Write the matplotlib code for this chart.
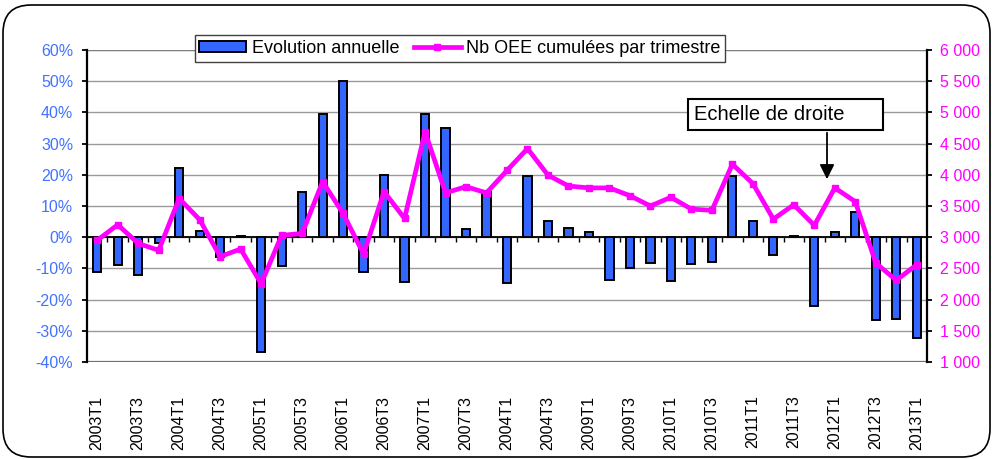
import matplotlib
matplotlib.use('Agg')
import matplotlib.pyplot as plt
from matplotlib.patches import FancyBboxPatch, Rectangle
from matplotlib.transforms import IdentityTransform
from matplotlib.ticker import FuncFormatter, MultipleLocator

plt.rcParams['font.family'] = ['Liberation Sans', 'DejaVu Sans']

# quarters 2003T1 .. 2013T1, labels every second quarter (as written on the chart)
tick_labels = ['2003T1', '2003T3', '2004T1', '2004T3', '2005T1', '2005T3',
               '2006T1', '2006T3', '2007T1', '2007T3', '2004T1', '2004T3',
               '2009T1', '2009T3', '2010T1', '2010T3', '2011T1', '2011T3',
               '2012T1', '2012T3', '2013T1']

# evolution annuelle (%)
evol = [-11, -9, -12, -2, 22.2, 2, -6.5, 0.5, -36.7, -9.2,
        14.6, 39.6, 50.2, -11, 20, -14.4, 39.4, 35, 2.7, 14.5,
        -14.6, 19.6, 5.2, 3.1, 1.8, -13.6, -9.8, -8.3, -14.1, -8.5,
        -8.1, 19.6, 5.2, -5.6, 0.3, -22, 1.6, 8, -26.6, -26.1,
        -32.4]

# Nb OEE cumulees par trimestre
nb_oee = [2950, 3200, 2900, 2790, 3620, 3280, 2690, 2810, 2255, 3030,
          3060, 3890, 3380, 2730, 3730, 3300, 4690, 3710, 3810, 3710,
          4070, 4420, 3995, 3820, 3790, 3790, 3665, 3500, 3640, 3450,
          3430, 4170, 3860, 3290, 3520, 3190, 3790, 3570, 2585, 2310,
          2560]

xs = list(range(len(evol)))
blue = '#3366FF'
pink = '#FF00FF'

fig = plt.figure(figsize=(9.92, 4.59), dpi=100)
ax = fig.add_axes([87/992, 1-362/459, 840/992, 312/459])
ax2 = ax.twinx()

# bars
bars = ax.bar(xs, evol, width=0.4, color=blue, edgecolor='black', linewidth=1.4,
              zorder=3, label='Evolution annuelle')
ax.set_xlim(-0.5, len(evol) - 0.5)
ax.set_ylim(-40, 60)
ax.yaxis.set_major_locator(MultipleLocator(10))
ax.yaxis.set_major_formatter(FuncFormatter(lambda v, p: f'{v:.0f}%'))
ax.grid(axis='y', color='#9a9a9a', linewidth=1, zorder=0)
ax.set_axisbelow(True)
# plot area border top / bottom
ax.axhline(-40, color='#707070', linewidth=1.6, zorder=2)
ax.axhline(60, color='#808080', linewidth=1.6, zorder=2)

# category axis sits on 0 %
ax.spines['bottom'].set_position(('data', 0))
ax.spines['bottom'].set_linewidth(1.3)
ax.spines['top'].set_visible(False)
ax.spines['left'].set_linewidth(1.6)
ax.spines['right'].set_visible(False)
ax.set_xticks(xs[::2])
ax.set_xticklabels(tick_labels, rotation=90, fontsize=11.5)
ax.set_xticks([i + 0.5 for i in xs[:-1]], minor=True)
ax.tick_params(axis='x', which='major', length=0, pad=114)
ax.tick_params(axis='x', which='minor', length=3.5, width=1, direction='out')
ax.tick_params(axis='y', colors='black', labelcolor='#4272FF', labelsize=11.5,
               length=3.5, width=1.3, pad=6.5)

# line on right scale
line, = ax2.plot(xs, nb_oee, color=pink, linewidth=3.4, marker='s', markersize=4.5,
                 zorder=4, label='Nb OEE cumulées par trimestre')
ax2.set_ylim(1000, 6000)
ax2.yaxis.set_major_locator(MultipleLocator(500))
ax2.yaxis.set_major_formatter(FuncFormatter(lambda v, p: f'{int(v):,}'.replace(',', ' ')))
for s in ['top', 'bottom', 'left']:
    ax2.spines[s].set_visible(False)
ax2.spines['right'].set_linewidth(1.6)
ax2.tick_params(axis='y', colors='black', labelcolor=pink, labelsize=11.5,
                length=3.5, width=1.3, pad=5.5)

# legend
leg = fig.legend([bars, line], ['Evolution annuelle', 'Nb OEE cumulées par trimestre'],
                 loc='center', bbox_to_anchor=(460/992, 1-48.5/459), ncol=2,
                 fontsize=13, frameon=True, fancybox=False, framealpha=1,
                 edgecolor='#404040', handlelength=2.6, handleheight=0.6,
                 columnspacing=0.8, handletextpad=0.3, borderpad=0.25,
                 borderaxespad=0, numpoints=1)
leg.get_frame().set_linewidth(1)

# "Echelle de droite" box and arrow
fig.add_artist(Rectangle((688/992, 1-130/459), 195/992, 31/459, transform=fig.transFigure,
                         facecolor='white', edgecolor='black', linewidth=1.5, zorder=5))
fig.text(694/992, 1-115/459, 'Echelle de droite', fontsize=14.5, va='center', ha='left', zorder=6)
ax.annotate('', xy=(827/992, 1-182/459), xytext=(827/992, 1-130/459),
            xycoords='figure fraction', textcoords='figure fraction',
            arrowprops=dict(arrowstyle='-|>', color='black', lw=1.3, mutation_scale=22))

# rounded outer frame
fig.add_artist(FancyBboxPatch((3, 2), 987, 452, boxstyle='round,pad=0,rounding_size=28',
                              transform=IdentityTransform(), facecolor='none',
                              edgecolor='black', linewidth=1.2, zorder=10))

fig.savefig('out.png', dpi=100)
